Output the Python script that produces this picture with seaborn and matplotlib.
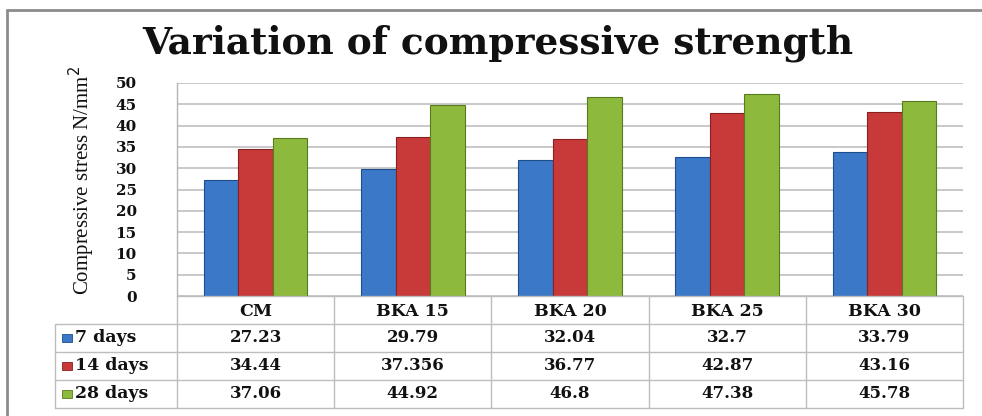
import matplotlib
matplotlib.use("Agg")
import matplotlib.pyplot as plt
import seaborn as sns
import pandas as pd
from matplotlib.lines import Line2D
from matplotlib.patches import Rectangle

# Data
categories = ["CM", "BKA 15", "BKA 20", "BKA 25", "BKA 30"]
series_names = ["7 days", "14 days", "28 days"]
days_7 = [27.23, 29.79, 32.04, 32.7, 33.79]
days_14 = [34.44, 37.356, 36.77, 42.87, 43.16]
days_28 = [37.06, 44.92, 46.8, 47.38, 45.78]
value_labels = [
    ["27.23", "29.79", "32.04", "32.7", "33.79"],
    ["34.44", "37.356", "36.77", "42.87", "43.16"],
    ["37.06", "44.92", "46.8", "47.38", "45.78"],
]
y_ticks = [0, 5, 10, 15, 20, 25, 30, 35, 40, 45, 50]

colors = ["#3B78C8", "#C83A3A", "#8DBA3C"]
edge_colors = ["#1F4E8C", "#8A1F1F", "#587A1E"]

rows = []
for name, vals in zip(series_names, [days_7, days_14, days_28]):
    for c, v in zip(categories, vals):
        rows.append({"Mix": c, "Age": name, "Stress": v})
df = pd.DataFrame(rows)

sns.set_theme(style="white")
plt.rcParams["font.family"] = ["Liberation Serif", "DejaVu Serif"]
BOLD = ["DejaVu Serif"]

W, H = 982, 416
fig = plt.figure(figsize=(W / 100, H / 100), dpi=100)
fig.patch.set_facecolor("white")

def fx(px):
    return px / W

def fy(py):
    return 1 - py / H

# Plot area in pixel coordinates
x0, x1 = 177, 963
y_top, y_bot = 83, 296
ax = fig.add_axes([fx(x0), fy(y_bot), fx(x1 - x0), (y_bot - y_top) / H])

sns.barplot(data=df, x="Mix", y="Stress", hue="Age", order=categories,
            hue_order=series_names, palette=colors, width=0.66,
            saturation=1, ax=ax, legend=False, edgecolor="none")

for i, cont in enumerate(ax.containers):
    for bar in cont:
        bar.set_edgecolor(edge_colors[i])
        bar.set_linewidth(0.8)
        bar.set_zorder(3)

ax.set_xlim(-0.5, len(categories) - 0.5)
ax.set_ylim(0, 50)
ax.set_yticks(y_ticks)
ax.set_yticklabels([str(t) for t in y_ticks], fontsize=11, fontweight="bold",
                   family=BOLD, color="#111111")
ax.tick_params(axis="y", length=0, pad=29)
ax.set_xticks([])
ax.set_xlabel("")
ax.set_ylabel("")
ax.yaxis.grid(True, color="#C4C4C4", linewidth=1.3)
ax.set_axisbelow(True)
for s in ["top", "right", "bottom"]:
    ax.spines[s].set_visible(False)
ax.spines["left"].set_color("#B5B5B5")
ax.spines["left"].set_linewidth(1.0)

# Title
fig.text(fx(498), fy(43), "Variation of compressive strength", ha="center",
         va="center", fontsize=27, fontweight="bold", family=BOLD,
         color="#111111")

# Y axis label
fig.text(fx(82), fy(180), "Compressive stress N/mm$^{2}$", rotation=90,
         ha="center", va="center", fontsize=15, color="#111111")

# Data table below the chart
col_w = (x1 - x0) / len(categories)
row_lines = [296, 324, 352, 380, 408]
label_left = 55
line_kw = dict(color="#BDBDBD", linewidth=1.0, transform=fig.transFigure)

# horizontal lines
fig.add_artist(Line2D([fx(x0), fx(x1)], [fy(296), fy(296)], **line_kw))
for yy in row_lines[1:]:
    fig.add_artist(Line2D([fx(label_left), fx(x1)], [fy(yy), fy(yy)], **line_kw))
# vertical lines
for k in range(len(categories) + 1):
    xx = x0 + k * col_w
    fig.add_artist(Line2D([fx(xx), fx(xx)], [fy(296), fy(408)], **line_kw))
fig.add_artist(Line2D([fx(label_left), fx(label_left)], [fy(324), fy(408)], **line_kw))

# header row with categories
for k, c in enumerate(categories):
    xc = x0 + (k + 0.5) * col_w
    fig.text(fx(xc), fy(311), c, ha="center", va="center", fontsize=12.5,
             fontweight="bold", family=BOLD, color="#111111")

# value rows with legend keys
for r, name in enumerate(series_names):
    yc = (row_lines[r + 1] + row_lines[r + 2]) / 2
    fig.add_artist(Rectangle((fx(62), fy(yc + 4)), fx(10), 8 / H,
                             facecolor=colors[r], edgecolor=edge_colors[r],
                             linewidth=0.6, transform=fig.transFigure))
    fig.text(fx(75), fy(yc), name, ha="left", va="center", fontsize=12.5,
             fontweight="bold", family=BOLD, color="#111111")
    for k in range(len(categories)):
        xc = x0 + (k + 0.5) * col_w
        fig.text(fx(xc), fy(yc), value_labels[r][k], ha="center", va="center",
                 fontsize=12, fontweight="bold", family=BOLD, color="#111111")

# Outer frame
frame_kw = dict(color="#8C8C8C", linewidth=2.0, transform=fig.transFigure)
fig.add_artist(Line2D([fx(7), fx(7)], [fy(10), fy(416)], **frame_kw))
fig.add_artist(Line2D([fx(7), fx(982)], [fy(10), fy(10)], **frame_kw))

fig.savefig("out.png", dpi=100, facecolor="white")
